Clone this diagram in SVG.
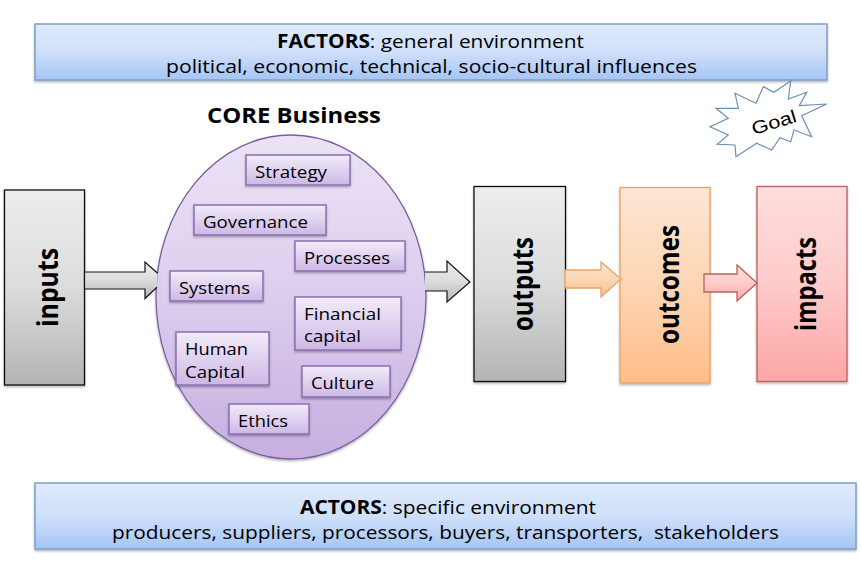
<svg xmlns="http://www.w3.org/2000/svg" width="862" height="574" viewBox="0 0 862 574">
<style>
text{font-family:"Open Sans","Noto Sans","Liberation Sans",sans-serif;fill:#000}
.bar{font-size:19px}
.item{font-size:16.5px}
.big{font-size:29px;font-weight:700}
.b{font-weight:700}
.bluebox{fill:url(#blue);stroke:#7d9fc6;stroke-width:1.5;filter:url(#sh)}
.greybox{fill:url(#grey);stroke:#111;stroke-width:1.3;filter:url(#sh)}
.purplebox{fill:url(#pbox);stroke:#8a6fb0;stroke-width:1.5;filter:url(#sh)}
</style>
<defs>
<linearGradient id="blue" x1="0" y1="0" x2="0" y2="1"><stop offset="0" stop-color="#dfeafc"/><stop offset="0.5" stop-color="#cfe0fa"/><stop offset="1" stop-color="#a5c5f4"/></linearGradient>
<linearGradient id="grey" x1="0" y1="0" x2="0" y2="1"><stop offset="0" stop-color="#ededed"/><stop offset="0.5" stop-color="#dcdcdc"/><stop offset="1" stop-color="#b4b4b4"/></linearGradient>
<linearGradient id="purple" x1="0" y1="0" x2="0" y2="1"><stop offset="0" stop-color="#ece3f6"/><stop offset="0.5" stop-color="#dccdee"/><stop offset="1" stop-color="#c6afe0"/></linearGradient>
<linearGradient id="pbox" x1="0" y1="0" x2="0" y2="1"><stop offset="0" stop-color="#f2ecf9"/><stop offset="1" stop-color="#cdb8e6"/></linearGradient>
<linearGradient id="orange" x1="0" y1="0" x2="0" y2="1"><stop offset="0" stop-color="#fde6d3"/><stop offset="0.5" stop-color="#fdd6b3"/><stop offset="1" stop-color="#fdbd88"/></linearGradient>
<linearGradient id="red" x1="0" y1="0" x2="0" y2="1"><stop offset="0" stop-color="#fedddd"/><stop offset="0.5" stop-color="#fecbcb"/><stop offset="1" stop-color="#fda6a6"/></linearGradient>
<filter id="sh" x="-10%" y="-10%" width="120%" height="125%"><feDropShadow dx="0" dy="1.5" stdDeviation="1.2" flood-color="#000" flood-opacity="0.3"/></filter>
</defs>

<g id="factors">
<rect class="bluebox" x="35" y="24" width="792" height="56"/>
<text class="bar" x="277" y="48" textLength="307" lengthAdjust="spacingAndGlyphs"><tspan class="b">FACTORS</tspan>: general environment</text>
<text class="bar" x="166" y="73" textLength="531" lengthAdjust="spacingAndGlyphs">political, economic, technical, socio-cultural influences</text>
</g>

<g id="goal">
<path d="M790.700 81L788.300 99L806.700 92.300L799.300 105.700L826.700 104L801.700 115.700L811.700 136.700L794 130L790.700 141.700L780 137.700L771.700 150L756.700 143.300L736 156.700L735 145L717.300 144.300L728.300 135L710 126.700L728.300 118.300L716 108.300L738.300 108.300L735 93.300L756 103.300L763.300 86.700L774 92.300Z" fill="#fff" stroke="#6d8fb5" stroke-width="1.2"/>
<text x="774" y="128.500" text-anchor="middle" transform="rotate(-17 774 122.600)" textLength="46" lengthAdjust="spacingAndGlyphs" style="font-family:'Liberation Sans',Arial,sans-serif;font-size:18px">Goal</text>
</g>

<g id="core-title">
<text x="207" y="123" font-size="22" font-weight="700" textLength="174" lengthAdjust="spacingAndGlyphs">CORE Business</text>
</g>

<g id="core">
<ellipse cx="291" cy="297" rx="135" ry="162" fill="url(#purple)" stroke="#7a5f9e" stroke-width="1.3" filter="url(#sh)"/>
</g>

<g id="strategy"><rect class="purplebox" x="246" y="155" width="104" height="30"/><text class="item" x="255" y="178" textLength="72" lengthAdjust="spacingAndGlyphs">Strategy</text></g>
<g id="governance"><rect class="purplebox" x="194" y="205" width="132" height="30"/><text class="item" x="203" y="228" textLength="105" lengthAdjust="spacingAndGlyphs">Governance</text></g>
<g id="processes"><rect class="purplebox" x="295" y="241" width="110" height="30"/><text class="item" x="304" y="264" textLength="86" lengthAdjust="spacingAndGlyphs">Processes</text></g>
<g id="systems"><rect class="purplebox" x="170" y="271" width="93" height="30"/><text class="item" x="179" y="294" textLength="71" lengthAdjust="spacingAndGlyphs">Systems</text></g>
<g id="financial-capital"><rect class="purplebox" x="295" y="297" width="106" height="53"/><text class="item" x="304" y="320" textLength="77" lengthAdjust="spacingAndGlyphs">Financial</text><text class="item" x="304" y="342" textLength="57" lengthAdjust="spacingAndGlyphs">capital</text></g>
<g id="human-capital"><rect class="purplebox" x="176" y="332" width="93" height="53"/><text class="item" x="185" y="355" textLength="63" lengthAdjust="spacingAndGlyphs">Human</text><text class="item" x="185" y="378" textLength="60" lengthAdjust="spacingAndGlyphs">Capital</text></g>
<g id="culture"><rect class="purplebox" x="302" y="366" width="88" height="31"/><text class="item" x="311" y="389" textLength="63" lengthAdjust="spacingAndGlyphs">Culture</text></g>
<g id="ethics"><rect class="purplebox" x="229" y="404" width="80" height="30"/><text class="item" x="238" y="427" textLength="50" lengthAdjust="spacingAndGlyphs">Ethics</text></g>

<g id="inputs"><rect class="greybox" x="4.500" y="190" width="80" height="195"/><text class="big" transform="translate(58 327) rotate(-90)" textLength="79" lengthAdjust="spacingAndGlyphs">inputs</text></g>
<g id="outputs"><rect class="greybox" x="474" y="186.500" width="91.500" height="195"/><text class="big" transform="translate(533 331) rotate(-90)" textLength="94" lengthAdjust="spacingAndGlyphs">outputs</text></g>
<g id="outcomes"><rect x="620" y="187.500" width="90" height="195.500" fill="url(#orange)" stroke="#e8a468" stroke-width="1.3" filter="url(#sh)"/><text class="big" transform="translate(679 344) rotate(-90)" textLength="119" lengthAdjust="spacingAndGlyphs">outcomes</text></g>
<g id="impacts"><rect x="757" y="186.500" width="90" height="195" fill="url(#red)" stroke="#b8605f" stroke-width="1.3" filter="url(#sh)"/><text class="big" transform="translate(816 331) rotate(-90)" textLength="94" lengthAdjust="spacingAndGlyphs">impacts</text></g>

<g id="actors">
<rect class="bluebox" x="35" y="483" width="821" height="66"/>
<text class="bar" x="300" y="514" textLength="296" lengthAdjust="spacingAndGlyphs"><tspan class="b">ACTORS</tspan>: specific environment</text>
<text class="bar" x="112" y="539" textLength="667" lengthAdjust="spacingAndGlyphs" xml:space="preserve">producers, suppliers, processors, buyers, transporters,  stakeholders</text>
</g>

<g id="connectors">
<path id="arrow-inputs-core" d="M157 287.300L145 298.500V289H84.500V272H145V262L157.600 273.300" fill="url(#grey)" stroke="#111" stroke-width="1.2"/>
<path id="arrow-core-outputs" d="M425 272H447V261L470 282L447 302V291H425" fill="url(#grey)" stroke="#111" stroke-width="1.2"/>
<path id="arrow-outputs-outcomes" d="M565 270H601V262L621 279L601 297V288H565Z" fill="url(#orange)" stroke="#e8a468" stroke-width="1.3"/>
<path id="arrow-outcomes-impacts" d="M704 274H737V265L757 283L737 301V292H704Z" fill="url(#red)" stroke="#b8605f" stroke-width="1.3"/>
</g>
</svg>
